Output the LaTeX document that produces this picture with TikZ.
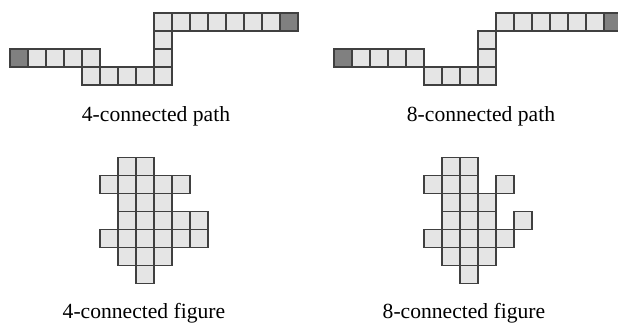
\documentclass[tikz,border=0pt]{standalone}
\usepackage{fontspec}
\setmainfont{Liberation Serif}
\usetikzlibrary{positioning}

\begin{document}
\begin{tikzpicture}[
    x=0.5pt, y=-0.5pt,
    every node/.style={font=\fontsize{10.8}{13}\selectfont, anchor=base},
    cell/.style={draw=black!75, fill=black!10, line width=0.6pt},
    endcell/.style={cell, fill=black!50}
]
\useasboundingbox (0,0) rectangle (618,323);

% 4-connected path
\begin{scope}[shift={(10,13)}]
  \foreach \c/\r in {1/2,2/2,3/2,4/2, 4/3,5/3,6/3,7/3,8/3, 8/2,8/1,
                     8/0,9/0,10/0,11/0,12/0,13/0,14/0}
    \draw[cell] (18*\c,18*\r) rectangle ++(18,18);
  \draw[endcell] (0,36) rectangle ++(18,18);
  \draw[endcell] (270,0) rectangle ++(18,18);
\end{scope}
\node (lpath4) at (156,121) {4-connected path};

% 8-connected path
\begin{scope}[shift={(334,13)}]
  \foreach \c/\r in {1/2,2/2,3/2,4/2, 5/3,6/3,7/3,8/3, 8/2,8/1,
                     9/0,10/0,11/0,12/0,13/0,14/0}
    \draw[cell] (18*\c,18*\r) rectangle ++(18,18);
  \draw[endcell] (0,36) rectangle ++(18,18);
  \draw[endcell] (270,0) rectangle ++(18,18);
\end{scope}
\node (lpath8) at (481,121) {8-connected path};

% 4-connected figure
\begin{scope}[shift={(100,157.3)}]
  \foreach \c/\r in {1/0,2/0, 0/1,1/1,2/1,3/1,4/1, 1/2,2/2,3/2,
                     1/3,2/3,3/3,4/3,5/3, 0/4,1/4,2/4,3/4,4/4,5/4,
                     1/5,2/5,3/5, 2/6}
    \draw[cell] (18*\c,18*\r) rectangle ++(18,18);
\end{scope}
\node (lfig4) at (144,318) {4-connected figure};

% 8-connected figure
\begin{scope}[shift={(424,157.3)}]
  \foreach \c/\r in {1/0,2/0, 0/1,1/1,2/1,4/1, 1/2,2/2,3/2,
                     1/3,2/3,3/3,5/3, 0/4,1/4,2/4,3/4,4/4,
                     1/5,2/5,3/5, 2/6}
    \draw[cell] (18*\c,18*\r) rectangle ++(18,18);
\end{scope}
\node (lfig8) at (464,318) {8-connected figure};

\end{tikzpicture}
\end{document}
